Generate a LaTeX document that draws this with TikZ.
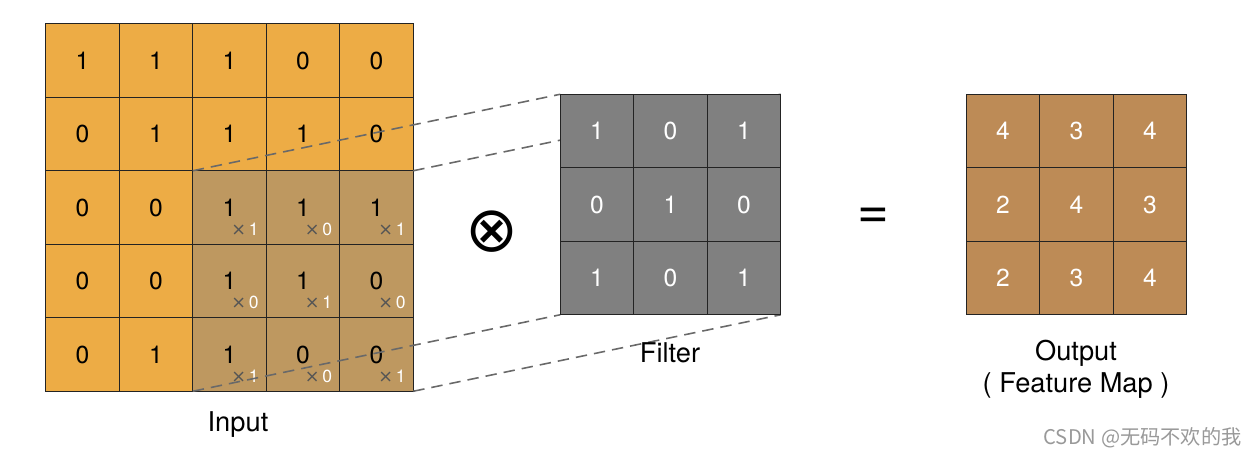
\documentclass[tikz,border=0pt]{standalone}
\usepackage{fontspec}
\setmainfont{TeX Gyre Heros}
\newfontfamily\cjkfont{Noto Sans CJK SC}
\newfontfamily\symfont{DejaVu Sans}
\usepackage{tikz}
\definecolor{inorange}{RGB}{237,172,69}
\definecolor{winbrown}{RGB}{190,152,96}
\definecolor{filtgray}{RGB}{128,128,128}
\definecolor{outbrown}{RGB}{189,139,86}
\definecolor{dashgray}{RGB}{105,105,105}
\definecolor{mulgray}{RGB}{85,85,85}
\definecolor{edgeblack}{RGB}{35,35,35}
\pgfdeclarelayer{grid}
\pgfdeclarelayer{lines}
\pgfsetlayers{grid,lines,main}
\newcommand\wt[1]{\textcolor{mulgray}{\symfont ×}\,\textcolor{white}{#1}}

\begin{document}
\begin{tikzpicture}[
  cell/.style={draw=edgeblack, line width=0.75pt, minimum size=1.47cm, inner sep=0pt, outer sep=0pt, font=\fontsize{14}{16}\selectfont},
  inp/.style={cell, fill=inorange},
  win/.style={cell, fill=winbrown},
  filt/.style={cell, fill=filtgray, text=white},
  outp/.style={cell, fill=outbrown, text=white},
  mul/.style={inner sep=0pt, font=\fontsize{10}{12}\selectfont},
  caption/.style={font=\fontsize{15.5}{18}\selectfont},
  proj/.style={draw=dashgray, line width=0.9pt, dash pattern=on 6.5pt off 4pt}
]
\useasboundingbox (0,0) rectangle (25.06,-9.14);

% input
\begin{pgfonlayer}{grid}
\node[inp] (i11) at (1.65,-1.21) {1};
\node[inp] (i12) at (3.12,-1.21) {1};
\node[inp] (i13) at (4.59,-1.21) {1};
\node[inp] (i14) at (6.06,-1.21) {0};
\node[inp] (i15) at (7.53,-1.21) {0};

\node[inp] (i21) at (1.65,-2.68) {0};
\node[inp] (i22) at (3.12,-2.68) {1};
\node[inp] (i23) at (4.59,-2.68) {1};
\node[inp] (i24) at (6.06,-2.68) {1};
\node[inp] (i25) at (7.53,-2.68) {0};

\node[inp] (i31) at (1.65,-4.15) {0};
\node[inp] (i32) at (3.12,-4.15) {0};
\node[win] (i33) at (4.59,-4.15) {1};
\node[win] (i34) at (6.06,-4.15) {1};
\node[win] (i35) at (7.53,-4.15) {1};

\node[inp] (i41) at (1.65,-5.62) {0};
\node[inp] (i42) at (3.12,-5.62) {0};
\node[win] (i43) at (4.59,-5.62) {1};
\node[win] (i44) at (6.06,-5.62) {1};
\node[win] (i45) at (7.53,-5.62) {0};

\node[inp] (i51) at (1.65,-7.09) {0};
\node[inp] (i52) at (3.12,-7.09) {1};
\node[win] (i53) at (4.59,-7.09) {1};
\node[win] (i54) at (6.06,-7.09) {0};
\node[win] (i55) at (7.53,-7.09) {0};

% weights in the window
\node[mul] (m33) at ([shift={(0.31,-0.43)}]i33.center) {\wt{1}};
\node[mul] (m34) at ([shift={(0.31,-0.43)}]i34.center) {\wt{0}};
\node[mul] (m35) at ([shift={(0.31,-0.43)}]i35.center) {\wt{1}};
\node[mul] (m43) at ([shift={(0.31,-0.43)}]i43.center) {\wt{0}};
\node[mul] (m44) at ([shift={(0.31,-0.43)}]i44.center) {\wt{1}};
\node[mul] (m45) at ([shift={(0.31,-0.43)}]i45.center) {\wt{0}};
\node[mul] (m53) at ([shift={(0.31,-0.43)}]i53.center) {\wt{1}};
\node[mul] (m54) at ([shift={(0.31,-0.43)}]i54.center) {\wt{0}};
\node[mul] (m55) at ([shift={(0.31,-0.43)}]i55.center) {\wt{1}};
\end{pgfonlayer}

% filter
\node[filt] (f11) at (11.94,-2.62) {1};
\node[filt] (f12) at (13.41,-2.62) {0};
\node[filt] (f13) at (14.88,-2.62) {1};
\node[filt] (f21) at (11.94,-4.09) {0};
\node[filt] (f22) at (13.41,-4.09) {1};
\node[filt] (f23) at (14.88,-4.09) {0};
\node[filt] (f31) at (11.94,-5.56) {1};
\node[filt] (f32) at (13.41,-5.56) {0};
\node[filt] (f33) at (14.88,-5.56) {1};

% projection lines, under the filter
\begin{pgfonlayer}{lines}
\draw[proj] (i33.north west) -- (f11.north west)
	(i35.north east) -- (f13.north east)
	(i53.south west) -- (f31.south west)
	(i55.south east) -- (f33.south east);
\end{pgfonlayer}

% output
\node[outp] (o11) at (20.06,-2.62) {4};
\node[outp] (o12) at (21.53,-2.62) {3};
\node[outp] (o13) at (23.00,-2.62) {4};
\node[outp] (o21) at (20.06,-4.09) {2};
\node[outp] (o22) at (21.53,-4.09) {4};
\node[outp] (o23) at (23.00,-4.09) {3};
\node[outp] (o31) at (20.06,-5.56) {2};
\node[outp] (o32) at (21.53,-5.56) {3};
\node[outp] (o33) at (23.00,-5.56) {4};

% operators and captions
\node[font=\symfont\fontsize{36}{38}\selectfont] (conv) at (9.84,-4.64) {⊗};
\node[font=\fontsize{31}{33}\selectfont] (eq) at (17.46,-4.36) {=};
\node[caption] (inlab) at (4.76,-8.50) {Input};
\node[caption] (filtlab) at (13.40,-7.06) {Filter};
\node[caption] (outlab) at (21.52,-7.07) {Output};
\node[caption] (maplab) at (21.52,-7.72) {( Feature Map )};
\node[text=black!40, font=\cjkfont\fontsize{11.5}{13}\selectfont] (mark) at (22.85,-8.76) {CSDN @无码不欢的我};
\end{tikzpicture}
\end{document}
